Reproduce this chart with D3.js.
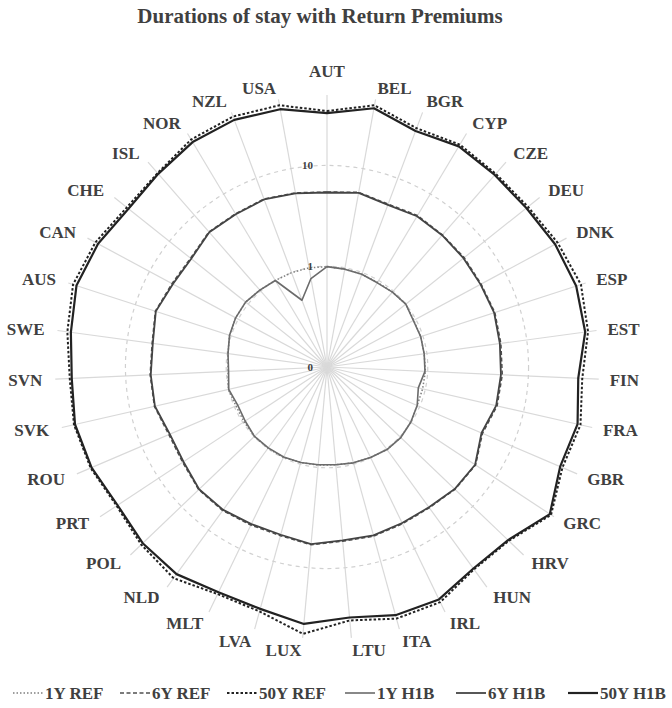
<!DOCTYPE html>
<html>
<head>
<meta charset="utf-8">
<script src="https://cdn.jsdelivr.net/npm/d3@7"></script>
<style>
  body { margin: 0; background: #fff; }
  svg { display: block; }
  text { font-family: "Liberation Serif", "Times New Roman", serif; font-weight: bold; fill: #404040; }
</style>
</head>
<body>
<svg id="chart" width="672" height="708"></svg>
<script>
// Countries, clockwise from the top
const categories = ["AUT","BEL","BGR","CYP","CZE","DEU","DNK","ESP","EST","FIN","FRA","GBR","GRC","HRV","HUN","IRL","ITA","LTU","LUX","LVA","MLT","NLD","POL","PRT","ROU","SVK","SVN","SWE","AUS","CAN","CHE","ISL","NOR","NZL","USA"];

// Duration of stay (years) per country and scenario
const ref1Y  = [0.99,0.97,0.96,0.95,0.97,1.00,0.95,0.95,0.94,0.95,0.94,0.94,0.99,1.03,1.03,0.99,0.97,0.94,0.95,0.96,0.99,0.99,0.99,0.97,0.96,1.01,0.96,0.98,1.04,1.07,1.08,1.03,1.00,1.00,1.00];
const ref6Y  = [5.45,5.77,5.33,5.64,5.51,5.51,5.45,5.64,5.51,5.51,5.39,4.76,5.84,5.71,5.33,5.33,5.51,5.45,5.90,5.45,5.51,5.77,5.77,5.21,5.09,5.71,5.71,5.64,6.18,5.58,5.39,6.04,5.90,6.04,5.71];
const ref50Y = [34.7,43.6,33.9,37.2,35.1,35.5,39.8,44.6,41.1,34.3,38.0,34.7,46.1,31.3,30.3,38.9,38.9,33.5,45.6,32.8,31.7,38.9,35.5,31.7,35.5,37.6,35.9,39.8,44.6,40.7,34.7,35.9,42.6,45.1,43.6];
const h1b1Y  = [0.99,0.97,0.96,0.94,0.97,1.00,0.94,0.95,0.94,0.94,0.85,0.94,0.99,1.03,1.03,0.99,0.97,0.94,0.94,0.96,0.98,0.98,0.99,0.94,0.92,1.00,0.95,0.98,1.04,1.07,1.08,1.03,1.00,0.51,0.78];
const h1b6Y  = [5.39,5.71,5.23,5.53,5.45,5.40,5.37,5.54,5.38,5.34,5.27,4.65,5.77,5.66,5.26,5.23,5.41,5.34,5.81,5.33,5.37,5.66,5.70,5.09,4.97,5.64,5.63,5.55,6.11,5.45,5.29,5.96,5.83,5.97,5.64];
const h1b50Y = [33.1,40.7,31.7,35.5,33.9,33.9,37.2,39.8,38.5,31.3,35.5,32.8,44.6,30.6,29.6,36.3,35.9,31.3,36.3,30.9,30.3,34.7,33.9,30.9,34.7,36.7,34.3,36.7,41.1,38.0,33.1,35.1,39.8,41.6,39.8];

const seriesNames = ["1Y REF","6Y REF","50Y REF","1Y H1B","6Y H1B","50Y H1B"];
const seriesValues = [ref1Y, ref6Y, ref50Y, h1b1Y, h1b6Y, h1b50Y];

// Radial axis (logarithmic)
const radialDomain = [0.1, 50];
const tickValues = [0.1, 1, 10];
const tickLabels = ["0", "1", "10"];

const chartTitle = "Durations of stay with Return Premiums";

// ---- drawing ----
const svg = d3.select("#chart");
const cx = 327, cy = 367, R = 272;

const rScale = d3.scaleLog().domain(radialDomain).range([0, R]);
const aScale = d3.scaleLinear().domain([0, categories.length]).range([0, 2 * Math.PI]);

const seriesStyle = {
  "1Y REF":  { stroke: "#7f7f7f", width: 1.5, dash: "1.5,2" },
  "6Y REF":  { stroke: "#505050", width: 1.5, dash: "4,2.5" },
  "50Y REF": { stroke: "#222222", width: 2,   dash: "2.5,2" },
  "1Y H1B":  { stroke: "#6b6b6b", width: 1.6, dash: null },
  "6Y H1B":  { stroke: "#444444", width: 1.8, dash: null },
  "50Y H1B": { stroke: "#222222", width: 2.2, dash: null }
};

svg.append("text")
  .attr("x", 320).attr("y", 23)
  .attr("text-anchor", "middle")
  .style("font-size", "21px")
  .text(chartTitle);

const plot = svg.append("g").attr("transform", `translate(${cx},${cy})`);

// spokes
plot.append("g").selectAll("line")
  .data(categories)
  .join("line")
  .attr("x1", 0).attr("y1", 0)
  .attr("x2", (d, i) => R * Math.sin(aScale(i)))
  .attr("y2", (d, i) => -R * Math.cos(aScale(i)))
  .attr("stroke", "#d9d9d9")
  .attr("stroke-width", 1.2);

// circular gridlines
plot.append("g").selectAll("circle")
  .data(tickValues.filter(v => rScale(v) > 0))
  .join("circle")
  .attr("r", d => rScale(d))
  .attr("fill", "none")
  .attr("stroke", "#d0d0d0")
  .attr("stroke-width", 1.2)
  .attr("stroke-dasharray", "4,4");

// series
const line = d3.lineRadial()
  .angle((d, i) => aScale(i))
  .radius(d => rScale(d))
  .curve(d3.curveLinearClosed);

plot.append("g").selectAll("path")
  .data(seriesNames)
  .join("path")
  .attr("d", (name, k) => line(seriesValues[k]))
  .attr("fill", "none")
  .attr("stroke", n => seriesStyle[n].stroke)
  .attr("stroke-width", n => seriesStyle[n].width)
  .attr("stroke-dasharray", n => seriesStyle[n].dash)
  .attr("stroke-linejoin", "round");

// radial tick labels
plot.append("g").selectAll("text")
  .data(tickValues)
  .join("text")
  .attr("x", -14)
  .attr("y", d => -rScale(d))
  .attr("dy", "0.35em")
  .attr("text-anchor", "end")
  .style("font-size", "11px")
  .text((d, i) => tickLabels[i]);

// category labels
plot.append("g").selectAll("text")
  .data(categories)
  .join("text")
  .each(function (d, i) {
    const a = aScale(i), s = Math.sin(a), c = Math.cos(a);
    const ax = R * s, ay = -R * c;
    const t = d3.select(this);
    if (Math.abs(s) < 0.02) {
      t.attr("x", ax).attr("y", c > 0 ? ay - 24 : ay + 24).attr("text-anchor", "middle");
    } else {
      t.attr("x", ax + (s > 0 ? 11 : 13) * s)
       .attr("y", ay - 12 * c)
       .attr("text-anchor", s > 0 ? "start" : "end");
    }
  })
  .attr("dy", "0.35em")
  .style("font-size", "17px")
  .text(d => d);

// legend
const legendX = [13, 120, 227, 345, 456, 568];
const legend = svg.append("g").selectAll("g")
  .data(seriesNames)
  .join("g")
  .attr("transform", (d, i) => `translate(${legendX[i]},693)`);
legend.append("line")
  .attr("x1", 0).attr("x2", 30).attr("y1", 0).attr("y2", 0)
  .attr("stroke", n => seriesStyle[n].stroke)
  .attr("stroke-width", n => seriesStyle[n].width)
  .attr("stroke-dasharray", n => seriesStyle[n].dash);
legend.append("text")
  .attr("x", 32).attr("y", 0).attr("dy", "0.35em")
  .style("font-size", "17px")
  .text(d => d);
</script>
</body>
</html>
